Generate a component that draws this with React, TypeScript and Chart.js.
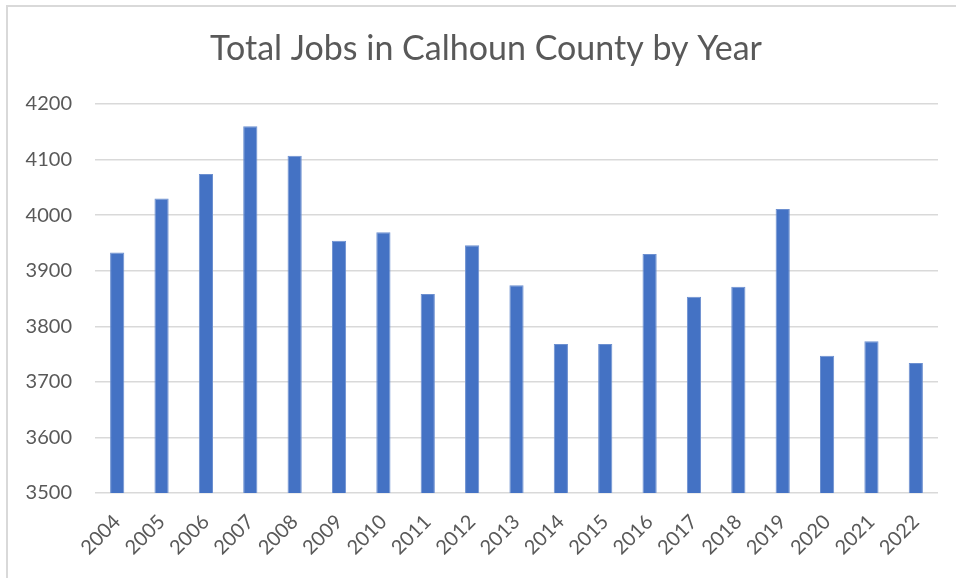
import React, { useEffect, useRef } from "react";
import { Chart, registerables } from "chart.js";

Chart.register(...registerables);

const years = ["2004","2005","2006","2007","2008","2009","2010","2011","2012","2013","2014","2015","2016","2017","2018","2019","2020","2021","2022"];
const totalJobs = [3933, 4030, 4074, 4160, 4107, 3954, 3969, 3858, 3946, 3874, 3768, 3768, 3930, 3853, 3871, 4011, 3747, 3773, 3734];
const yMin = 3500;
const yMax = 4200;
const yStep = 100;
const titleText = "Total Jobs in Calhoun County by Year";

const textColor = "#595959";

const titlePlugin = {
  id: "centeredTitle",
  afterDraw(chart: any) {
    const ctx = chart.ctx;
    ctx.save();
    ctx.fillStyle = textColor;
    ctx.font = "34px Lato";
    ctx.textAlign = "center";
    ctx.textBaseline = "alphabetic";
    ctx.fillText(titleText, 486, 60);
    ctx.restore();
  },
};

export default function App() {
  const canvasRef = useRef<HTMLCanvasElement | null>(null);

  useEffect(() => {
    const canvas = canvasRef.current;
    if (!canvas) return;
    const chart = new Chart(canvas, {
      type: "bar",
      data: {
        labels: years,
        datasets: [
          {
            label: "Total Jobs",
            data: totalJobs,
            backgroundColor: "#4472C4",
            borderColor: "#6d90d0",
            borderWidth: 1,
            barPercentage: 1,
            categoryPercentage: 0.32,
          },
        ],
      },
      options: {
        animation: false,
        responsive: false,
        maintainAspectRatio: false,
        layout: { padding: { left: 8, right: 18, top: 104, bottom: 0 } },
        plugins: {
          legend: { display: false },
          tooltip: { enabled: false },
          title: { display: false },
        },
        scales: {
          x: {
            grid: { display: false, drawTicks: false },
            border: { display: false },
            ticks: {
              color: textColor,
              font: { family: "Lato", size: 20 },
              maxRotation: 45,
              minRotation: 45,
              padding: 17,
              autoSkip: false,
            },
            afterFit: (scale: any) => {
              scale.height = 85;
            },
          },
          y: {
            min: yMin,
            max: yMax,
            grid: { color: "#d9d9d9", lineWidth: 1.5, drawTicks: false },
            border: { display: false },
            ticks: {
              stepSize: yStep,
              color: textColor,
              font: { family: "Lato", size: 20 },
              padding: 23,
              callback: (v: any) => String(v),
            },
            afterFit: (scale: any) => {
              scale.width = 87;
            },
          },
        },
      },
      plugins: [titlePlugin],
    });
    return () => chart.destroy();
  }, []);

  return (
    <div
      style={{
        position: "fixed",
        left: 0,
        top: 0,
        width: 956,
        height: 578,
        overflow: "hidden",
        background: "#ffffff",
      }}
    >
      <div
        style={{
          position: "absolute",
          left: 6,
          top: 5,
          width: 1000,
          height: 1000,
          border: "2px solid #d9d9d9",
          boxSizing: "border-box",
        }}
      />
      <canvas
        ref={canvasRef}
        width={956}
        height={578}
        style={{ position: "absolute", left: 0, top: 0, width: 956, height: 578 }}
      />
    </div>
  );
}
